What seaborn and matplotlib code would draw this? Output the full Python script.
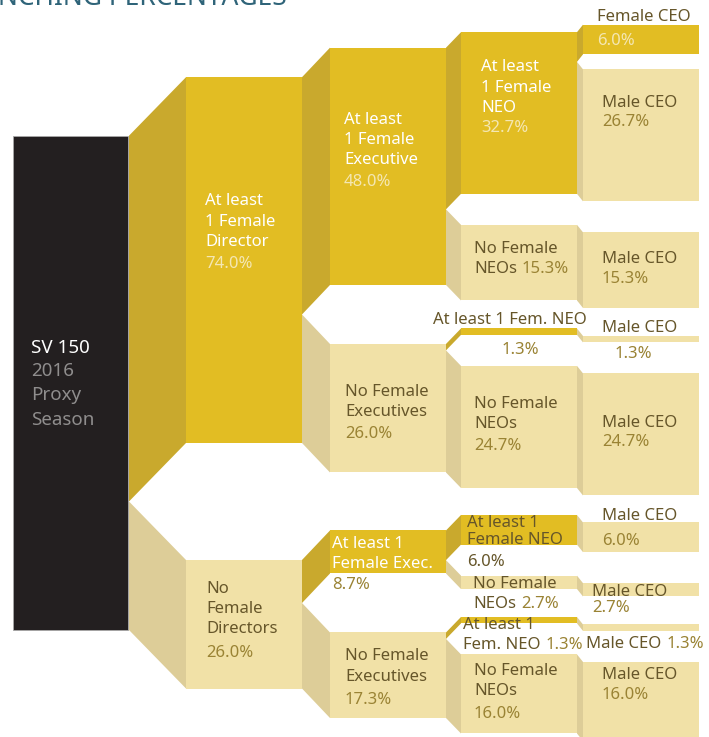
import matplotlib.pyplot as plt
import seaborn as sns

# share of SV 150 companies (%), one set of lists per branching level
root_lines = ["SV 150", "2016", "Proxy", "Season"]

lvl1_labels = ["At least\n1 Female\nDirector", "No\nFemale\nDirectors"]
lvl1_values = [74.0, 26.0]
lvl1_female = [True, False]
lvl1_parent = [0, 0]

lvl2_labels = ["At least\n1 Female\nExecutive", "No Female\nExecutives",
               "At least 1\nFemale Exec.", "No Female\nExecutives"]
lvl2_values = [48.0, 26.0, 8.7, 17.3]
lvl2_female = [True, False, True, False]
lvl2_parent = [0, 0, 1, 1]

lvl3_labels = ["At least\n1 Female\nNEO", "No Female\nNEOs", "At least 1 Fem. NEO", "No Female\nNEOs",
               "At least 1\nFemale NEO", "No Female\nNEOs", "At least 1\nFem. NEO", "No Female\nNEOs"]
lvl3_values = [32.7, 15.3, 1.3, 24.7, 6.0, 2.7, 1.3, 16.0]
lvl3_female = [True, False, True, False, True, False, True, False]
lvl3_parent = [0, 0, 1, 1, 2, 2, 3, 3]

lvl4_labels = ["Female CEO"] + ["Male CEO"] * 8
lvl4_values = [6.0, 26.7, 15.3, 1.3, 24.7, 6.0, 2.7, 1.3, 16.0]
lvl4_female = [True] + [False] * 8
lvl4_parent = [0, 0, 1, 2, 3, 4, 5, 6, 7]

# colours
ROOT = "#231F20"
YEL, YEL_SIDE = "#E2BD23", "#C9A92D"
PALE, PALE_SIDE = "#F1E1A7", "#DDCD98"
WHITE, CREAM = "#FFFFFF", "#F4E7B3"
DARK, GOLD = "#66562A", "#9A8334"

# layout (pixels)
PX = 4.943               # pixels per percent
ROOT_TOP = 135.7
col_left = [13, 186, 330, 461, 583]
col_w = 116
shift = [58.5, 29.5, 15.5, 7.5]

# text anchors: x, baselines of label lines, pct position (None -> inline), colours
text_at = {
    1: [(205, [205, 226, 246], (205, 268), WHITE, CREAM),
        (206, [593, 613, 633], (206, 657), DARK, GOLD)],
    2: [(344, [124, 144, 164], (344, 186), WHITE, CREAM),
        (345, [396, 416], (345, 438), DARK, GOLD),
        (332, [548, 568], (332, 589), WHITE, GOLD),
        (345, [660, 681], (345, 704), DARK, GOLD)],
    3: [(481, [71, 92, 112], (481, 132), WHITE, CREAM),
        (474, [253, 273], None, DARK, GOLD),
        (433, [324], (502, 354), DARK, GOLD),
        (474, [408, 428], (474, 450), DARK, GOLD),
        (467, [527, 544], (467, 566), DARK, DARK),
        (473, [588, 608], None, DARK, GOLD),
        (463, [629, 649], None, DARK, GOLD),
        (474, [675, 695], (474, 718), DARK, GOLD)],
    4: [(597, [21], (597, 45), DARK, CREAM),
        (602, [107], (602, 126), DARK, GOLD),
        (602, [263], (602, 283), DARK, GOLD),
        (602, [332], (615, 358), DARK, GOLD),
        (602, [427], (602, 446), DARK, GOLD),
        (602, [520], (602, 545), DARK, GOLD),
        (592, [596], (592, 612), DARK, GOLD),
        (586, [648], None, DARK, GOLD),
        (602, [679], (602, 699), DARK, GOLD)],
}

sns.set_theme(style="white")
plt.rcParams["font.family"] = ["Noto Sans", "DejaVu Sans"]
plt.rcParams["font.weight"] = "medium"

fig = plt.figure(figsize=(7.09, 7.37), dpi=100)
ax = fig.add_axes([0, 0, 1, 1])
ax.set_xlim(0, 709)
ax.set_ylim(737, 0)
ax.axis("off")

FS = 12


def put(x, y, s, color, size=FS):
    return ax.text(x, y, s, color=color, fontsize=size, va="baseline", ha="left")


# root bar
ax.bar(col_left[0], 100 * PX, width=col_w - 1, bottom=ROOT_TOP, align="edge",
       color=ROOT, edgecolor="#A8A8A8", linewidth=0.6)
for i, (line, yb) in enumerate(zip(root_lines, [353, 376, 400, 425])):
    put(31, yb, line, WHITE if i == 0 else "#8F8D8D", size=13.5)

levels = [
    (lvl1_labels, lvl1_values, lvl1_female, lvl1_parent),
    (lvl2_labels, lvl2_values, lvl2_female, lvl2_parent),
    (lvl3_labels, lvl3_values, lvl3_female, lvl3_parent),
    (lvl4_labels, lvl4_values, lvl4_female, lvl4_parent),
]

parent_tops = [ROOT_TOP]
for L, (labels, values, female, parents) in enumerate(levels, start=1):
    xp = col_left[L - 1] + col_w
    xc = col_left[L]
    cursor, seen = {}, {}
    tops = []
    for i, (v, p, fem) in enumerate(zip(values, parents, female)):
        start = cursor.get(p, parent_tops[p])
        k = seen.get(p, 0)
        sign = -1 if (k == 0 and parents.count(p) == 2) else 1
        top = start + sign * shift[L - 1]
        h = v * PX
        face, side = (YEL, YEL_SIDE) if fem else (PALE, PALE_SIDE)
        ax.fill([xp, xc, xc, xp], [start, top, top + h, start + h], color=side, lw=0)
        ax.bar(xc, h, width=col_w, bottom=top, align="edge", color=face, linewidth=0)
        tops.append(top)
        cursor[p] = start + h
        seen[p] = k + 1

        x, ys, pct_at, c_lab, c_pct = text_at[L][i]
        last = None
        for line, yb in zip(labels[i].split("\n"), ys):
            last = put(x, yb, line, c_lab)
        pct = f"{v:.1f}%"
        if pct_at is None:
            ax.annotate(pct, xy=(1, 0), xycoords=last, xytext=(3.5, 0),
                        textcoords="offset points", va="bottom", ha="left",
                        color=c_pct, fontsize=FS)
        else:
            put(pct_at[0], pct_at[1], pct, c_pct)
    parent_tops = tops

# cropped heading at the top edge
ax.text(287, 5, "NCHING PERCENTAGES", color="#2F6479", fontsize=19,
        ha="right", va="baseline")

fig.savefig("out.png", dpi=100)
